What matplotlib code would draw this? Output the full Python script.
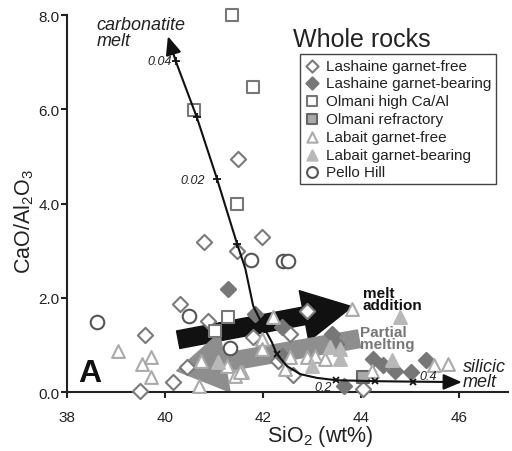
import numpy as np
import matplotlib
matplotlib.use('Agg')
import matplotlib.pyplot as plt

plt.rcParams['font.family'] = ['Liberation Sans', 'DejaVu Sans']
plt.rcParams['mathtext.fontset'] = 'custom'
plt.rcParams['mathtext.rm'] = 'Liberation Sans'

# Whole-rock data (SiO2 wt%, CaO/Al2O3)
lash_free_x = [41.49, 40.80, 41.98, 41.47, 40.30, 40.88, 39.59, 39.49, 40.16, 40.45,
               41.80, 42.90, 42.55, 42.31, 42.62, 44.04]
lash_free_y = [4.94, 3.19, 3.30, 3.00, 1.87, 1.51, 1.20, 0.02, 0.22, 0.54,
               1.17, 1.72, 1.23, 0.66, 0.37, 0.06]

lash_grt_x = [41.29, 41.84, 42.39, 43.40, 43.50, 43.65, 44.24, 44.45, 44.70, 45.02,
              45.33, 42.39]
lash_grt_y = [2.19, 1.66, 1.38, 1.23, 1.02, 0.12, 0.70, 0.58, 0.45, 0.42,
              0.68, 0.77]

olm_high_x = [41.37, 41.80, 40.59, 41.47, 41.29, 41.02]
olm_high_y = [8.00, 6.47, 5.98, 3.98, 1.60, 1.30]

olm_ref_x = [44.04]
olm_ref_y = [0.32]

lab_free_x = [39.04, 39.53, 39.71, 39.71, 40.69, 40.73, 41.27, 41.43, 41.57, 42.20,
              43.82, 41.98, 41.98, 42.55, 42.90, 43.06, 43.27, 42.45, 41.53, 45.50,
              45.78, 44.22]
lab_free_y = [0.87, 0.60, 0.75, 0.32, 0.13, 0.66, 0.55, 0.34, 0.42, 1.60,
              1.77, 1.13, 0.91, 0.74, 0.74, 0.77, 0.70, 0.49, 0.42, 0.57,
              0.60, 0.45]

lab_grt_x = [44.80, 44.63, 41.08, 43.37, 43.57, 43.00, 43.57]
lab_grt_y = [1.60, 0.68, 0.64, 0.96, 0.91, 0.55, 0.70]

pello_x = [38.61, 40.49, 41.33, 41.76, 42.41, 42.51]
pello_y = [1.49, 1.62, 0.94, 2.81, 2.79, 2.77]

# carbonatite - silicic melt mixing curve
mix_x = [40.06, 40.22, 40.65, 41.06, 41.47, 41.64, 41.80, 41.98, 42.18, 42.28,
         42.49, 42.76, 43.10, 43.50, 44.29, 45.06, 46.06]
mix_y = [7.55, 7.02, 5.83, 4.53, 3.15, 2.62, 1.83, 1.45, 1.06, 0.81,
         0.55, 0.38, 0.30, 0.25, 0.23, 0.22, 0.21]
carb_tick_x = [40.22, 40.65, 41.06, 41.47]
carb_tick_y = [7.02, 5.83, 4.53, 3.15]
sil_tick_x = [42.28, 43.50, 44.29, 45.06]
sil_tick_y = [0.81, 0.25, 0.23, 0.22]

# broad process arrows (start, tip)
melt_add = [(40.27, 1.11), (43.82, 1.81)]
part_melt = [(43.96, 1.13), (40.24, 0.45)]

fig = plt.figure(figsize=(5.12, 4.52), dpi=100)
ax = fig.add_axes([0.1309, 0.1305, 0.861, 0.834])

dark = '#222222'
ax.annotate('', xy=melt_add[1], xytext=melt_add[0], zorder=1,
            arrowprops=dict(arrowstyle='simple,head_length=2.2,head_width=2.3,tail_width=0.8',
                            mutation_scale=16, color='#111111', shrinkA=0, shrinkB=0))
ax.annotate('', xy=part_melt[1], xytext=part_melt[0], zorder=1,
            arrowprops=dict(arrowstyle='simple,head_length=2.2,head_width=2.7,tail_width=0.8',
                            mutation_scale=16, color='#8e8e8e', shrinkA=0, shrinkB=0))

lw = 1.5
ax.scatter(lash_free_x, lash_free_y, marker='D', s=60, facecolor='white', edgecolor='#7a7a7a',
           linewidth=lw, zorder=3, clip_on=False, label='Lashaine garnet-free')
ax.scatter(lash_grt_x, lash_grt_y, marker='D', s=60, facecolor='#777777', edgecolor='#777777',
           linewidth=lw, zorder=3, clip_on=False, label='Lashaine garnet-bearing')
ax.scatter(olm_high_x, olm_high_y, marker='s', s=85, facecolor='white', edgecolor='#777777',
           linewidth=lw, zorder=3, clip_on=False, label='Olmani high Ca/Al')
ax.scatter(olm_ref_x, olm_ref_y, marker='s', s=85, facecolor='#aaaaaa', edgecolor='#666666',
           linewidth=lw, zorder=3, clip_on=False, label='Olmani refractory')
ax.scatter(lab_free_x, lab_free_y, marker='^', s=85, facecolor='white', edgecolor='#aaaaaa',
           linewidth=lw, zorder=3, clip_on=False, label='Labait garnet-free')
ax.scatter(lab_grt_x, lab_grt_y, marker='^', s=85, facecolor='#b8b8b8', edgecolor='#b8b8b8',
           linewidth=lw, zorder=3, clip_on=False, label='Labait garnet-bearing')
ax.scatter(pello_x, pello_y, marker='o', s=95, facecolor='white', edgecolor='#555555',
           linewidth=lw, zorder=3, clip_on=False, label='Pello Hill')

# mixing curve
ax.plot(mix_x[1:-1], mix_y[1:-1], color='#111111', lw=1.5, zorder=4)
ax.annotate('', xy=(mix_x[0], mix_y[0]), xytext=(mix_x[1], mix_y[1]), zorder=4,
            arrowprops=dict(arrowstyle='-|>,head_length=0.7,head_width=0.3', mutation_scale=16,
                            color='#111111', lw=1.5, shrinkA=0, shrinkB=0))
ax.annotate('', xy=(mix_x[-1], mix_y[-1]), xytext=(mix_x[-2], mix_y[-2]), zorder=4,
            arrowprops=dict(arrowstyle='-|>,head_length=0.7,head_width=0.3', mutation_scale=16,
                            color='#111111', lw=1.5, shrinkA=0, shrinkB=0))
ax.plot(carb_tick_x, carb_tick_y, ls='none', marker='+', ms=6, mew=1.3, color='#111111', zorder=4)
ax.plot(sil_tick_x, sil_tick_y, ls='none', marker='x', ms=5, mew=1.3, color='#111111', zorder=4)

ax.text(40.14, 7.02, '0.04', fontsize=9, style='italic', color=dark, ha='right', va='center')
ax.text(40.82, 4.49, '0.02', fontsize=9, style='italic', color=dark, ha='right', va='center')
ax.text(43.22, 0.10, '0.2', fontsize=9, style='italic', color=dark, ha='center', va='center')
ax.text(45.19, 0.34, '0.4', fontsize=9, style='italic', color=dark, ha='left', va='center')

ax.text(38.61, 7.97, 'carbonatite\nmelt', fontsize=13, style='italic', color=dark,
        ha='left', va='top', linespacing=0.85)
ax.text(46.08, 0.72, 'silicic\nmelt', fontsize=13, style='italic', color=dark,
        ha='left', va='top', linespacing=0.85)
ax.text(44.04, 2.25, 'melt\naddition', fontsize=11, fontweight='bold', color='#111111',
        ha='left', va='top', linespacing=0.8)
ax.text(43.98, 1.42, 'Partial\nmelting', fontsize=11, fontweight='bold', color='#777777',
        ha='left', va='top', linespacing=0.8)
ax.text(38.22, 0.23, 'A', fontsize=23, fontweight='bold', color='#111111', ha='left', va='baseline')

ax.set_xlim(38, 47)
ax.set_ylim(0, 8)
ax.set_xticks([38, 40, 42, 44, 46])
ax.set_yticks([0, 2, 4, 6, 8])
ax.set_yticklabels(['0.0', '2.0', '4.0', '6.0', '8.0'])
ax.set_xlabel(r'$\mathregular{SiO_2}$ (wt%)', fontsize=15.5, color=dark)
ax.set_ylabel(r'$\mathregular{CaO/Al_2O_3}$', fontsize=15.5, color=dark)
ax.xaxis.set_label_coords(0.574, -0.082)
ax.yaxis.set_label_coords(-0.07, 0.454)

for side in ['top', 'right']:
    ax.spines[side].set_visible(False)
for side in ['left', 'bottom']:
    ax.spines[side].set_linewidth(1.5)
    ax.spines[side].set_color(dark)
ax.tick_params(axis='both', direction='out', length=4, width=1.5, color=dark,
               labelsize=11, labelcolor=dark)
ax.tick_params(axis='x', pad=9)
ax.tick_params(axis='y', pad=1.5)

fig.text(293 / 512, 1 - 47 / 452, 'Whole rocks', fontsize=18, color=dark, ha='left', va='baseline')
leg = ax.legend(loc='upper right', bbox_to_anchor=(496 / 512, 1 - 55 / 452),
                bbox_transform=fig.transFigure, fontsize=11, frameon=True, fancybox=False,
                edgecolor='#444444', framealpha=1, labelspacing=0.25, handlelength=1.0,
                handletextpad=0.4, borderpad=0.3, borderaxespad=0, scatterpoints=1,
                markerscale=0.8)
leg.get_frame().set_linewidth(1.0)
for t in leg.get_texts():
    t.set_color(dark)

fig.savefig('out.png', dpi=100)
